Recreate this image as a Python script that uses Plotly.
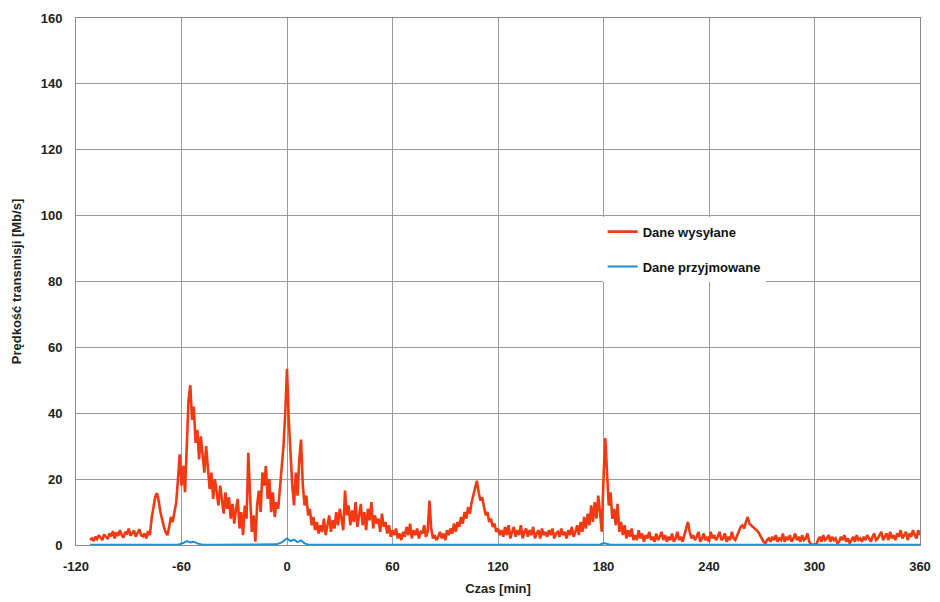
import plotly.graph_objects as go

# Time axis for the sent-data series: one sample per minute from -112 to 360
sent_start = -112
sent_end = 360

# Dane wysyłane [Mb/s], one value per minute starting at -112
sent_vals = [
    1.5, 2.0, 1.2, 2.5, 1.8, 3.0, 2.2, 1.5, 3.2, 2.4,     # -112
    1.8, 3.5, 2.6, 4.2, 2.0, 3.8, 2.8, 4.5, 3.0, 2.2,     # -102
    4.0, 3.2, 5.0, 2.8, 3.6, 4.4, 2.5, 3.8, 4.8, 3.0,     # -92
    2.6, 3.5, 2.0, 4.2, 3.0, 8.0, 12.0, 14.5, 15.8, 13.5, # -82
    10.0, 7.5, 5.5, 3.8, 3.0, 5.5, 8.5, 7.0, 10.5, 13.0,  # -72
    20.0, 27.5, 18.0, 24.0, 16.0, 30.0, 44.0, 48.5, 38.0, 42.0,  # -62
    31.0, 35.0, 26.0, 33.0, 28.0, 22.0, 30.0, 24.0, 17.0, 22.0,  # -52
    14.0, 20.0, 15.5, 12.0, 18.0, 13.0, 9.5, 16.0, 11.0, 14.5,   # -42
    8.0, 12.5, 6.5, 11.0, 14.0, 5.0, 10.0, 3.0, 12.0, 8.0,       # -32
    28.0, 15.0, 4.0, 9.0, 1.0, 12.0, 16.5, 10.0, 22.0, 18.0,     # -22
    24.0, 14.0, 20.0, 10.0, 16.0, 8.5, 13.0, 11.0, 18.0, 25.0,   # -12
    30.0, 40.0, 53.5, 38.0, 26.0, 18.0, 12.0, 22.0, 15.0, 26.0,  # -2
    32.0, 18.0, 12.0, 15.0, 9.0, 11.0, 6.0, 8.5, 4.5, 7.0,       # 8
    3.5, 6.0, 4.0, 8.0, 3.0, 5.5, 9.0, 4.0, 7.5, 5.0,            # 18
    10.0, 6.0, 11.0, 8.0, 4.5, 16.5, 9.0, 12.0, 6.0, 10.5,       # 28
    7.0, 13.0, 5.5, 9.0, 12.5, 6.0, 10.0, 4.5, 11.0, 7.5,        # 38
    13.0, 5.0, 9.0, 6.5, 8.0, 4.0, 9.5, 5.5, 7.0, 3.5,           # 48
    6.0, 2.5, 4.5, 3.0, 5.0, 2.0, 3.5, 1.5, 4.0, 2.5,            # 58
    5.5, 3.0, 6.5, 2.0, 4.5, 3.0, 5.0, 2.0, 4.0, 3.5,            # 68
    6.0, 2.5, 4.0, 13.5, 5.0, 2.0, 3.0, 1.5, 2.5, 4.0,           # 78
    2.0, 3.5, 1.5, 4.5, 3.0, 5.0, 3.5, 6.5, 4.0, 7.0,            # 88
    5.5, 8.5, 6.5, 10.0, 8.0, 11.5, 9.5, 13.0, 15.0, 17.0,       # 98
    19.5, 16.0, 13.5, 14.5, 11.0, 9.0, 10.0, 7.0, 8.0, 5.5,      # 108
    6.5, 4.0, 5.0, 3.0, 4.5, 2.5, 5.5, 3.0, 6.0, 2.0,            # 118
    4.0, 5.5, 2.5, 4.5, 3.0, 6.0, 2.0, 4.0, 5.0, 2.5,            # 128
    4.5, 3.0, 5.5, 2.0, 3.5, 4.5, 2.0, 5.0, 3.0, 4.0,            # 138
    2.5, 4.5, 3.0, 5.0, 2.0, 3.5, 4.0, 2.5, 5.0, 3.0,            # 148
    4.0, 2.0, 4.5, 3.0, 5.5, 2.5, 4.0, 6.0, 3.0, 7.0,            # 158
    4.0, 8.5, 5.0, 9.5, 6.0, 12.0, 7.0, 13.0, 8.0, 15.0,         # 168
    10.0, 4.0, 20.0, 32.5, 22.0, 12.0, 16.0, 8.0, 11.0, 6.0,     # 178
    12.5, 4.0, 7.0, 3.0, 6.0, 2.0, 4.5, 2.5, 5.0, 1.5,           # 188
    3.0, 1.5, 4.5, 2.0, 3.5, 1.0, 3.0, 2.0, 4.0, 1.5,            # 198
    2.5, 1.0, 3.5, 1.5, 2.5, 4.0, 1.5, 3.0, 1.0, 2.5,            # 208
    1.5, 3.5, 1.0, 2.0, 4.0, 1.5, 2.5, 1.0, 3.0, 5.5,            # 218
    7.0, 4.0, 2.0, 3.0, 1.5, 2.5, 4.0, 1.0, 2.0, 3.5,            # 228
    1.5, 2.5, 1.0, 4.0, 2.0, 3.0, 1.5, 2.5, 4.0, 1.5,            # 238
    2.0, 3.5, 1.0, 2.5, 1.5, 4.0, 2.0, 1.5, 3.0, 4.5,            # 248
    5.5, 6.0, 5.0, 7.0, 8.5, 6.5, 6.0, 5.5, 5.0, 4.5,            # 258
    4.0, 3.0, 2.0, 1.0, 0.5, 1.5, 2.0, 1.0, 2.5, 1.5,            # 268
    3.0, 1.0, 2.0, 1.5, 3.5, 1.0, 2.5, 1.5, 3.0, 1.0,            # 278
    2.0, 3.5, 1.5, 2.5, 1.0, 3.0, 1.5, 2.0, 3.5, 1.0,            # 288
    0.3, 0.0, 0.2, 0.0, 1.5, 2.5, 1.0, 3.0, 1.5, 2.0,            # 298
    3.0, 1.0, 2.5, 1.5, 2.0, 0.5, 1.0, 2.5, 1.5, 3.0,            # 308
    1.0, 2.0, 0.5, 1.5, 2.5, 1.0, 3.0, 1.5, 2.0, 1.0,            # 318
    2.5, 1.5, 3.0, 2.0, 1.0, 2.5, 3.5, 1.5, 2.0, 3.0,            # 328
    4.0, 1.5, 2.5, 3.5, 1.5, 4.0, 2.0, 3.0, 1.5, 3.5,            # 338
    2.5, 4.5, 2.0, 3.0, 4.0, 1.5, 3.5, 2.5, 4.5, 3.0,            # 348
    2.0, 4.5, 3.0,                                               # 358
]
sent_time = list(range(sent_start, sent_end + 1))
assert len(sent_time) == len(sent_vals)

# Dane przyjmowane [Mb/s]
recv_time = [-112, -100, -80, -62, -59, -57, -55, -53, -51, -48, -40, -20,
             -6, -3, -1, 0, 2, 4, 6, 8, 10, 12, 20, 60, 120, 178, 180, 182,
             184, 240, 300, 360]
recv_vals = [0.1, 0.1, 0.1, 0.1, 0.6, 1.2, 0.8, 1.0, 0.5, 0.1, 0.1, 0.1,
             0.2, 0.8, 1.5, 2.0, 1.2, 1.6, 0.9, 1.4, 0.5, 0.1, 0.1, 0.1, 0.1,
             0.1, 0.6, 0.3, 0.1, 0.1, 0.1, 0.1]

x_ticks = [-120, -60, 0, 60, 120, 180, 240, 300, 360]
y_ticks = [0, 20, 40, 60, 80, 100, 120, 140, 160]

font_family = "Liberation Sans, Arial, sans-serif"

fig = go.Figure()
fig.add_trace(go.Scatter(
    x=sent_time, y=sent_vals, mode="lines", name="<b>Dane wysyłane</b>",
    line=dict(color="#f23a12", width=2.6), legendgroup="a",
))
fig.add_trace(go.Scatter(
    x=recv_time, y=recv_vals, mode="lines", name="<b>Dane przyjmowane</b>",
    line=dict(color="#1f8fd0", width=2), legendgroup="b",
))

fig.update_layout(
    width=940, height=602,
    margin=dict(l=76, r=20, t=18, b=57),
    paper_bgcolor="white", plot_bgcolor="white",
    font=dict(family=font_family, size=13, color="#222"),
    showlegend=True,
    legend=dict(
        x=0.624, y=0.623, xanchor="left", yanchor="top",
        bgcolor="white", borderwidth=0, traceorder="grouped",
        font=dict(family=font_family, size=13, color="#111"),
        itemwidth=30, tracegroupgap=15,
    ),
)
fig.update_xaxes(
    range=[-120, 360], tickmode="array", tickvals=x_ticks,
    ticktext=[f"<b>{v}</b>" for v in x_ticks],
    showgrid=True, gridcolor="#9a9a9a", gridwidth=1,
    zeroline=False, showline=True, linecolor="#8a8a8a", mirror=True,
    ticks="outside", ticklen=9, tickcolor="rgba(0,0,0,0)",
    automargin=False,
    title=dict(text="<b>Czas [min]</b>", standoff=11,
               font=dict(family=font_family, size=13, color="#222")),
    tickfont=dict(family=font_family, size=13, color="#222"),
)
fig.update_yaxes(
    range=[0, 160], tickmode="array", tickvals=y_ticks,
    ticktext=[f"<b>{v}</b>" for v in y_ticks],
    showgrid=True, gridcolor="#9a9a9a", gridwidth=1,
    zeroline=False, showline=True, linecolor="#8a8a8a", mirror=True,
    ticks="outside", ticklen=10, tickcolor="rgba(0,0,0,0)",
    automargin=False,
    title=dict(text="<b>Prędkość transmisji [Mb/s]</b>", standoff=16,
               font=dict(family=font_family, size=13, color="#222")),
    tickfont=dict(family=font_family, size=13, color="#222"),
)

fig.write_html("out.html", config={"displayModeBar": False})

# remove the default 8px body margin so the figure sits at the window's corner
with open("out.html", "r", encoding="utf-8") as f:
    html = f.read()
html = html.replace("<body>", '<body style="margin:0;padding:0;overflow:hidden">', 1)
with open("out.html", "w", encoding="utf-8") as f:
    f.write(html)
